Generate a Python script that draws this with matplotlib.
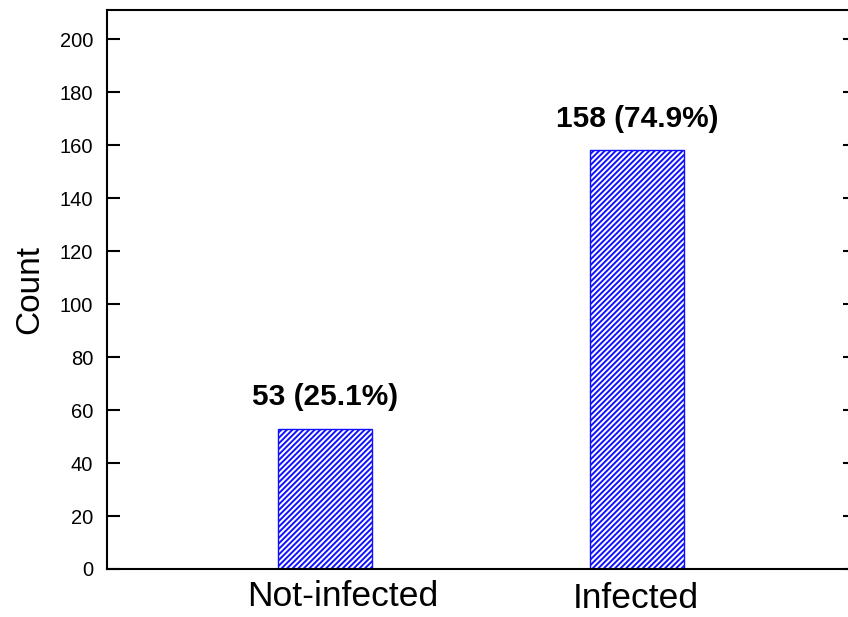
import matplotlib
matplotlib.use("Agg")
import matplotlib.pyplot as plt
from matplotlib.transforms import ScaledTranslation

# Data
categories = ["Not-infected", "Infected"]
counts = [53, 158]
percents = [25.1, 74.9]
y_ticks = [0, 20, 40, 60, 80, 100, 120, 140, 160, 180, 200]

plt.rcParams["font.family"] = ["Liberation Sans", "DejaVu Sans"]
plt.rcParams["hatch.linewidth"] = 1.4

fig = plt.figure(figsize=(8.48, 6.17), dpi=100)
ax = fig.add_axes([0.1262, 0.0778, 0.8821, 0.906])

positions = list(range(1, len(categories) + 1))
ax.bar(positions, counts, width=0.3, facecolor="white", edgecolor="#1010ff",
       linewidth=1.0, hatch="//////")

for x, c, p in zip(positions, counts, percents):
    ax.annotate(f"{c} ({p}%)", xy=(x, c), xytext=(0, 17),
                textcoords="offset points", ha="center", va="baseline",
                fontsize=21.5, fontweight="bold")

ax.set_xlim(0.3, 2.7)
ax.set_ylim(0, 211)
ax.set_xticks(positions)
ax.set_xticklabels(categories, fontsize=25.5)
ax.set_yticks(y_ticks)
ax.tick_params(axis="y", direction="in", length=9, width=1.5, labelsize=14.5,
               pad=10, right=True)
ax.tick_params(axis="x", length=0, pad=8)
ax.set_ylabel("Count", fontsize=24, labelpad=10)

# small per-label offsets of the category names (points)
label_shift = [(13, 0), (-1, -1.5)]
for lab, (dx, dy) in zip(ax.get_xticklabels(), label_shift):
    lab.set_transform(lab.get_transform()
                      + ScaledTranslation(dx / 72, dy / 72, fig.dpi_scale_trans))

for s in ax.spines.values():
    s.set_linewidth(1.5)

fig.savefig("out.png", dpi=100)
